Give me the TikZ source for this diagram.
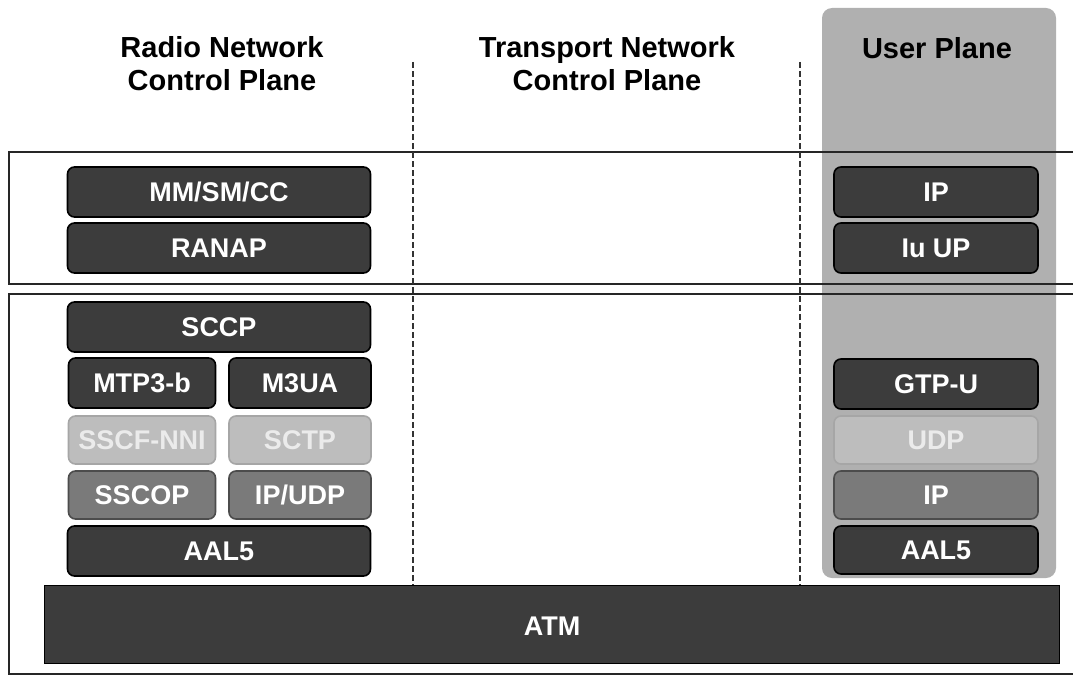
\documentclass[tikz,border=0pt]{standalone}
\usepackage{fontspec}
\setmainfont{Liberation Sans}
\definecolor{darkfill}{HTML}{3C3C3C}
\definecolor{medfill}{HTML}{7A7A7A}
\definecolor{lightfill}{HTML}{BDBDBD}
\definecolor{upbg}{HTML}{B0B0B0}
\begin{document}
\begin{tikzpicture}[x=1pt,y=-1pt,
  layerbox/.style={rounded corners=7pt, inner sep=0pt, line width=1.6pt,
    font=\bfseries\fontsize{27}{30}\selectfont},
  darkbox/.style={layerbox, fill=darkfill, draw=black, text=white},
  medbox/.style={layerbox, fill=medfill, draw=black!70, text=white},
  lightbox/.style={layerbox, fill=lightfill, draw=black!35, text=white!92!black},
  atmbox/.style={inner sep=0pt, fill=darkfill, draw=black, line width=1pt, text=white,
    font=\bfseries\fontsize{27}{30}\selectfont},
  header/.style={align=center, inner sep=0pt, text=black,
    font=\bfseries\fontsize{29}{33}\selectfont},
  frame/.style={line width=1.8pt, draw=black!85},
  planesep/.style={line width=1.3pt, draw=black!80, dash pattern=on 6pt off 3pt}
]
\useasboundingbox (0,0) rectangle (1073,677);
\fill[white] (0,0) rectangle (1073,677);

% user plane column background
\fill[upbg, rounded corners=10pt] (822,8) rectangle (1056,578);

% headers
\node[header] (hrn) at (222,64) {Radio Network\\Control Plane};
\node[header] (htn) at (607,64) {Transport Network\\Control Plane};
\node[header] (hup) at (937,48) {User Plane};

% frame of the two layers
\draw[frame] (1073,152) -- (9,152) -- (9,284) -- (1073,284);
\draw[frame] (1073,294) -- (9,294) -- (9,674) -- (1073,674);

% plane separators
\draw[planesep] (413,62) -- (413,585);
\draw[planesep] (800,62) -- (800,585);

% radio network layer
\node[darkbox, minimum width=303pt, minimum height=50pt] (mm) at (219,192) {MM/SM/CC};
\node[darkbox, minimum width=303pt, minimum height=50pt] (ranap) at (219,248) {RANAP};
\node[darkbox, minimum width=204pt, minimum height=50pt] (ip1) at (936,192) {IP};
\node[darkbox, minimum width=204pt, minimum height=50pt] (iuup) at (936,248) {Iu UP};

% transport network layer, control plane
\node[darkbox, minimum width=303pt, minimum height=50pt] (sccp) at (219,327) {SCCP};
\node[darkbox, minimum width=147pt, minimum height=50pt] (mtp) at (142,383) {MTP3-b};
\node[darkbox, minimum width=142pt, minimum height=50pt] (m3ua) at (300,383) {M3UA};
\node[lightbox, minimum width=147pt, minimum height=48pt] (sscf) at (142,440) {SSCF-NNI};
\node[lightbox, minimum width=142pt, minimum height=48pt] (sctp) at (300,440) {SCTP};
\node[medbox, minimum width=147pt, minimum height=48pt] (sscop) at (142,495) {SSCOP};
\node[medbox, minimum width=142pt, minimum height=48pt] (ipudp) at (300,495) {IP/UDP};
\node[darkbox, minimum width=303pt, minimum height=50pt] (aal1) at (219,551) {AAL5};

% user plane
\node[darkbox, minimum width=204pt, minimum height=50pt] (gtpu) at (936,384) {GTP-U};
\node[lightbox, minimum width=204pt, minimum height=48pt] (udp) at (936,440) {UDP};
\node[medbox, minimum width=204pt, minimum height=48pt] (ip2) at (936,495) {IP};
\node[darkbox, minimum width=204pt, minimum height=48pt] (aal2) at (936,550) {AAL5};

% ATM
\node[atmbox, minimum width=1015pt, minimum height=78pt] (atm) at (552,624) {};
\node[text=white, inner sep=0pt, font=\bfseries\fontsize{27}{30}\selectfont] (atmlabel) at (552,626) {ATM};
\end{tikzpicture}
\end{document}
